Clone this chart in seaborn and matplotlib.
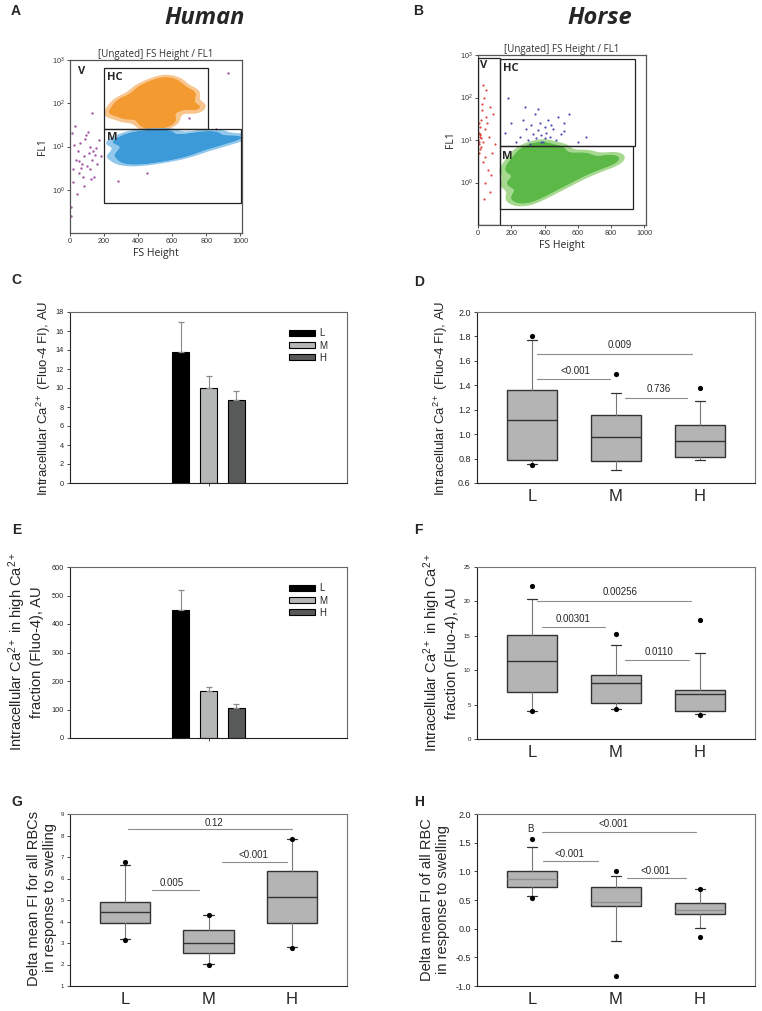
import numpy as np
import pandas as pd
import matplotlib
matplotlib.use('Agg')
import matplotlib.pyplot as plt
import seaborn as sns
from matplotlib.patches import Rectangle
from matplotlib.colors import ListedColormap
from matplotlib.ticker import NullLocator, FormatStrFormatter

# Flow cytometry, human (panel A): anchor points of each population
hc_human_x = [260, 300, 340, 360, 400, 420, 440, 460, 480, 500, 510, 540, 550, 560, 580, 590, 600, 620,
              640, 660, 700, 740, 540, 480]
hc_human_y = [63, 100, 50, 126, 79, 200, 40, 126, 251, 63, 158, 316, 100, 200, 40, 141, 282, 79,
              200, 112, 158, 79, 35, 32]
m_human_x = [300, 300, 350, 350, 350, 400, 400, 400, 400, 450, 450, 450, 500, 500, 500, 550, 550, 550,
             600, 600, 650, 650, 700, 700, 760, 760, 830, 830, 900, 970]
m_human_y = [6.3, 12.6, 5.0, 9.0, 16, 4.5, 8.0, 14, 20, 5.0, 9.0, 16, 5.6, 10, 20, 5.6, 11, 20,
             6.3, 12.6, 7.0, 14, 8.0, 16, 10, 18, 11, 20, 14, 16]
v_human_x = [10, 20, 35, 45, 55, 60, 70, 80, 90, 100, 110, 120, 130, 140, 150, 160, 170, 180, 15, 30,
             50, 75, 95, 115, 135, 5, 25, 65, 85, 105, 125, 145, 40, 8, 450, 930, 860, 280, 130, 700]
v_human_y = [20, 3, 5, 8, 2.5, 12, 4, 6, 15, 3.5, 7, 10, 5, 2, 9, 4, 14, 6, 1.5, 30,
             4.5, 2, 18, 3, 8, 0.4, 11, 3.2, 1.2, 22, 1.8, 6.5, 0.8, 0.25, 2.5, 500, 25, 1.6, 60, 45]

# Flow cytometry, horse (panel B)
m_horse_x = [200, 200, 240, 240, 280, 280, 280, 280, 330, 330, 330, 330, 380, 380, 380, 380, 430, 430,
             430, 480, 480, 480, 530, 530, 580, 580, 640, 640, 700, 760, 810]
m_horse_y = [1.0, 2.0, 0.5, 3.2, 0.4, 1.0, 2.5, 5.0, 0.5, 1.26, 3.2, 6.3, 0.63, 1.6, 4.0, 7.0, 0.79, 2.0,
             5.0, 1.0, 2.5, 5.6, 1.26, 3.2, 1.6, 3.5, 2.0, 4.0, 2.5, 3.2, 3.5]
hc_horse_x = [160, 200, 230, 250, 270, 290, 300, 320, 330, 340, 350, 360, 370, 380, 390, 400, 410, 420,
              430, 450, 470, 500, 520, 550, 600, 650, 280, 310, 360, 400, 440, 180, 480, 520, 380]
hc_horse_y = [15, 25, 9, 12, 30, 18, 10, 22, 14, 40, 11, 17, 25, 13, 9, 20, 15, 30,
              12, 18, 10, 14, 25, 40, 9, 12, 60, 8, 55, 11, 22, 100, 35, 16, 9]
v_horse_x = [3, 5, 8, 10, 12, 15, 18, 20, 25, 30, 35, 40, 45, 50, 55, 60, 70, 80, 90, 100,
             6, 9, 14, 22, 28, 33, 42, 48, 65, 75, 85, 4, 11, 17, 38]
v_horse_y = [10, 15, 8, 20, 12, 6, 30, 11, 50, 9, 100, 18, 4, 150, 25, 2, 60, 1.5, 40, 8,
             5, 25, 13, 70, 3, 200, 1, 35, 12, 0.6, 5, 9, 14, 7, 0.4]

# gates: (x0, y0, x1, y1)
gates_human = [(200, 26, 810, 650), (200, 0.5, 1005, 26)]
gates_horse = [(3, 0.1, 133, 850), (133, 7.2, 946, 800), (133, 0.24, 930, 7.2)]

levels = ['L', 'M', 'H']
bar_colors = ['#000000', '#b5b7b6', '#575a59']

# Panel C / E bars (mean, upper error)
c_means = [13.8, 9.95, 8.75]
c_err = [3.1, 1.35, 0.95]
e_means = [448, 165, 105]
e_err = [72, 13, 13]

# Panel D boxes
d_q1 = [0.785, 0.78, 0.815]
d_med = [1.115, 0.98, 0.945]
d_q3 = [1.365, 1.155, 1.075]
d_wlo = [0.755, 0.71, 0.79]
d_whi = [1.77, 1.34, 1.275]
d_dot_cat = ['L', 'L', 'M', 'H']
d_dot_val = [1.80, 0.75, 1.49, 1.375]

# Panel F boxes
f_q1 = [6.9, 5.3, 4.1]
f_med = [11.4, 8.2, 6.5]
f_q3 = [15.1, 9.3, 7.05]
f_wlo = [4.0, 4.4, 3.6]
f_whi = [20.4, 13.6, 12.5]
f_dot_cat = ['L', 'L', 'M', 'M', 'H', 'H']
f_dot_val = [22.2, 4.0, 15.3, 4.3, 17.3, 3.5]

# Panel G boxes
g_q1 = [3.93, 2.55, 3.95]
g_med = [4.42, 3.0, 5.15]
g_q3 = [4.93, 3.6, 6.33]
g_wlo = [3.18, 2.02, 2.8]
g_whi = [6.62, 4.3, 7.85]
g_dot_cat = ['L', 'L', 'M', 'M', 'H', 'H']
g_dot_val = [6.78, 3.15, 4.32, 2.0, 7.85, 2.75]

# Panel H boxes
h_q1 = [0.73, 0.40, 0.26]
h_med = [0.87, 0.47, 0.33]
h_q3 = [1.01, 0.72, 0.45]
h_wlo = [0.57, -0.22, 0.01]
h_whi = [1.42, 0.91, 0.69]
h_dot_cat = ['L', 'L', 'M', 'M', 'H', 'H']
h_dot_val = [1.56, 0.53, 1.01, -0.83, 0.70, -0.15]

# p-value brackets: (label, x0, x1, y_line, x_text, y_text)
sig_d = [('0.009', 0.06, 1.91, 1.655, 1.05, 1.73), ('<0.001', 0.06, 0.93, 1.45, 0.52, 1.52),
         ('0.736', 1.11, 1.85, 1.30, 1.51, 1.37)]
sig_f = [('0.00256', 0.06, 1.89, 20.0, 1.05, 21.3), ('0.00301', 0.12, 0.87, 16.3, 0.49, 17.5),
         ('0.0110', 1.11, 1.87, 11.5, 1.51, 12.7)]
sig_g = [('0.12', 0.04, 2.0, 8.3, 1.06, 8.6), ('0.005', 0.32, 0.89, 5.48, 0.56, 5.77),
         ('<0.001', 1.16, 1.94, 6.78, 1.54, 7.07)]
sig_h = [('<0.001', 0.12, 1.95, 1.69, 0.97, 1.82), ('<0.001', 0.13, 0.79, 1.18, 0.44, 1.30),
         ('<0.001', 1.13, 1.83, 0.89, 1.47, 1.01)]

sns.set_style('ticks')
plt.rcParams['font.family'] = ['Liberation Sans', 'DejaVu Sans']
plt.rcParams['mathtext.fontset'] = 'custom'
plt.rcParams['mathtext.rm'] = 'Liberation Sans'
plt.rcParams['mathtext.it'] = 'Liberation Sans:italic'
plt.rcParams['mathtext.bf'] = 'Liberation Sans:bold'

W, H = 762, 1011
fig = plt.figure(figsize=(W / 100, H / 100), dpi=100)


def px_axes(l, t, r, b):
    return fig.add_axes([l / W, 1 - b / H, (r - l) / W, (b - t) / H])


def ftext(x, y, s, **kw):
    fig.text(x / W, 1 - y / H, s, **kw)


flow_font = ['Open Sans', 'DejaVu Sans']


def flow_axes(ax, xmax):
    ax.set_yscale('log')
    ax.set_xlim(0, xmax)
    ax.set_ylim(0.1, 1000)
    ax.set_yticks([1, 10, 100, 1000])
    ax.yaxis.set_minor_locator(NullLocator())
    ax.set_xticks([0, 200, 400, 600, 800, 1000])
    ax.tick_params(labelsize=5.2, length=2, width=0.6, pad=1.5, colors='#333')
    for s in ax.spines.values():
        s.set_color('#555')
        s.set_linewidth(0.9)
    ax.set_title('[Ungated] FS Height / FL1', fontsize=7, color='#333', pad=2, fontfamily=flow_font)


def flow_labels(ax):
    ax.set_xlim(0, 1010)
    ax.set_ylim(0.1, 1000)
    ax.set_xlabel('FS Height', fontsize=7.5, labelpad=2, fontfamily=flow_font)
    ax.set_ylabel('FL1', fontsize=7.5, labelpad=3, fontfamily=flow_font)


def cloud(ax, xs, ys, light, dark, bw):
    df = pd.DataFrame({'fs': xs, 'fl': ys})
    sns.kdeplot(data=df, x='fs', y='fl', fill=True, levels=[0.07, 0.16, 1],
                cmap=ListedColormap([light, dark]), bw_adjust=bw, antialiased=True, ax=ax)


def draw_gates(ax, gates):
    for x0, y0, x1, y1 in gates:
        ax.add_patch(Rectangle((x0, y0), x1 - x0, y1 - y0, fill=False, edgecolor='#222', lw=0.9, zorder=4))


# Panel A
ax = px_axes(70, 60, 242, 233)
flow_axes(ax, 1012)
cloud(ax, hc_human_x, hc_human_y, '#f9c58e', '#f39a30', 0.65)
cloud(ax, m_human_x, m_human_y, '#92c8ec', '#3d9ad8', 0.7)
sns.scatterplot(x=v_human_x, y=v_human_y, color='#a35aa8', s=3, linewidth=0, ax=ax)
draw_gates(ax, gates_human)
flow_labels(ax)
ax.text(45, 550, 'V', fontsize=8, fontweight='bold', fontfamily=flow_font, va='center')
ax.text(215, 400, 'HC', fontsize=8, fontweight='bold', fontfamily=flow_font, va='center')
ax.text(215, 16, 'M', fontsize=8, fontweight='bold', fontfamily=flow_font, va='center')

# Panel B
ax = px_axes(478, 55, 646, 225)
flow_axes(ax, 1010)
cloud(ax, m_horse_x, m_horse_y, '#a6d98f', '#5cb947', 0.65)
sns.scatterplot(x=hc_horse_x, y=hc_horse_y, color='#4b4fb0', s=2.5, linewidth=0, ax=ax)
sns.scatterplot(x=v_horse_x, y=v_horse_y, color='#e2473f', s=2.5, linewidth=0, ax=ax)
draw_gates(ax, gates_horse)
flow_labels(ax)
ax.text(15, 560, 'V', fontsize=8, fontweight='bold', fontfamily=flow_font, va='center')
ax.text(150, 480, 'HC', fontsize=8, fontweight='bold', fontfamily=flow_font, va='center')
ax.text(145, 4, 'M', fontsize=8, fontweight='bold', fontfamily=flow_font, va='center')


def bar_panel(ax, means, errs, ymax, ystep):
    df = pd.DataFrame({'group': [''] * len(levels), 'level': levels, 'value': means})
    sns.barplot(data=df, x='group', y='value', hue='level', hue_order=levels, palette=bar_colors,
                gap=0.39, edgecolor='black', linewidth=0.8, errorbar=None, ax=ax)
    for cont, err in zip(ax.containers, errs):
        bar = cont[0]
        ax.errorbar(bar.get_x() + bar.get_width() / 2, bar.get_height(), yerr=[[0], [err]],
                    fmt='none', ecolor='#8a8a8a', elinewidth=0.8, capsize=2.5, capthick=0.9, zorder=1)
    ax.set_xlim(-1.32, 1.32)
    ax.set_ylim(0, ymax)
    ax.set_yticks(np.arange(0, ymax + ystep / 2, ystep))
    ax.set_xticks([0])
    ax.set_xticklabels([''])
    ax.set_xlabel('')
    ax.set_ylabel('')
    ax.tick_params(axis='y', labelsize=5.3, length=2.5, width=0.6, pad=2)
    ax.tick_params(axis='x', length=2.5, width=0.6)
    for side, s in ax.spines.items():
        s.set_linewidth(0.8)
        s.set_color('#222' if side in ('left', 'bottom') else '#666')
    sns.move_legend(ax, 'upper left', bbox_to_anchor=(0.76, 0.955), frameon=False, title=None,
                    fontsize=7, handlelength=2.6, handleheight=0.55, labelspacing=0.22, handletextpad=0.5)


def box_panel(ax, q1, med, q3, wlo, whi, dot_cat, dot_val, ymin, ymax, ystep, tick_size, fmt, med_color='#333'):
    stats = [dict(med=m, q1=a, q3=b, whislo=lo, whishi=hi, fliers=[], label=lv)
             for lv, a, m, b, lo, hi in zip(levels, q1, med, q3, wlo, whi)]
    ax.bxp(stats, positions=range(len(levels)), widths=0.6, patch_artist=True, showfliers=False,
           boxprops=dict(facecolor='#b4b4b4', edgecolor='#333', linewidth=1.0),
           medianprops=dict(color=med_color, linewidth=1.0),
           whiskerprops=dict(color='#777', linewidth=0.8),
           capprops=dict(color='#333', linewidth=0.9), capwidths=0.12)
    pos = {c: i for i, c in enumerate(levels)}
    sns.scatterplot(x=[pos[c] for c in dot_cat], y=dot_val, color='black', s=14, linewidth=0,
                    zorder=5, ax=ax, legend=False)
    ax.set_xlim(-0.66, 2.66)
    ax.set_ylim(ymin, ymax)
    ax.set_yticks(np.arange(ymin, ymax + ystep / 2, ystep))
    if fmt:
        ax.yaxis.set_major_formatter(FormatStrFormatter(fmt))
    ax.set_xticks(range(len(levels)))
    ax.set_xticklabels(levels)
    ax.tick_params(axis='x', length=0, labelsize=12, pad=4)
    ax.tick_params(axis='y', labelsize=tick_size, length=2.5, width=0.6, pad=2)
    for side, s in ax.spines.items():
        s.set_linewidth(0.8)
        s.set_color('#222' if side in ('left', 'bottom') else '#777')


def sig_marks(ax, sig):
    for lab, x0, x1, yl, xt, yt in sig:
        ax.plot([x0, x1], [yl, yl], color='#8c8c8c', lw=0.8)
        ax.text(xt, yt, lab, ha='center', va='center', fontsize=7)


# Panel C
ax = px_axes(70, 312, 347, 483)
bar_panel(ax, c_means, c_err, 18, 2)
# Panel E
ax = px_axes(70, 567, 347, 738)
bar_panel(ax, e_means, e_err, 600, 100)

# Panel D
ax = px_axes(477, 312, 755, 483)
box_panel(ax, d_q1, d_med, d_q3, d_wlo, d_whi, d_dot_cat, d_dot_val, 0.6, 2.0, 0.2, 6.5, '%.1f')
sig_marks(ax, sig_d)
# Panel F
ax = px_axes(477, 567, 755, 739)
box_panel(ax, f_q1, f_med, f_q3, f_wlo, f_whi, f_dot_cat, f_dot_val, 0, 25, 5, 4.4, None)
sig_marks(ax, sig_f)
# Panel G
ax = px_axes(70, 814, 347, 986)
box_panel(ax, g_q1, g_med, g_q3, g_wlo, g_whi, g_dot_cat, g_dot_val, 1, 9, 1, 4.4, None)
sig_marks(ax, sig_g)
# Panel H
ax = px_axes(477, 814, 755, 986)
box_panel(ax, h_q1, h_med, h_q3, h_wlo, h_whi, h_dot_cat, h_dot_val, -1.0, 2.0, 0.5, 6.5, '%.1f',
          med_color='#8f8f8f')
sig_marks(ax, sig_h)
ax.text(-0.02, 1.73, 'B', ha='center', va='center', fontsize=7)

# y labels
ftext(44, 398, 'Intracellular Ca$^{2+}$ (Fluo-4 FI), AU', rotation=90, ha='center', va='center', fontsize=9.5)
ftext(441, 398, 'Intracellular Ca$^{2+}$ (Fluo-4 FI), AU', rotation=90, ha='center', va='center', fontsize=9.5)
ftext(25, 652, 'Intracellular Ca$^{2+}$ in high Ca$^{2+}$\nfraction (Fluo-4), AU', rotation=90,
      ha='center', va='center', fontsize=10.5, multialignment='center')
ftext(440, 653, 'Intracellular Ca$^{2+}$ in high Ca$^{2+}$\nfraction (Fluo-4), AU', rotation=90,
      ha='center', va='center', fontsize=10.5, multialignment='center')
ftext(42, 898, 'Delta mean FI for all RBCs\nin response to swelling', rotation=90,
      ha='center', va='center', fontsize=10.5, multialignment='center')
ftext(435, 900, 'Delta mean FI of all RBC\nin response to swelling', rotation=90,
      ha='center', va='center', fontsize=10.5, multialignment='center')

# titles and panel letters
ftext(205, 18, 'Human', ha='center', va='center', fontsize=17, fontweight='bold', fontstyle='italic',
      fontfamily=flow_font)
ftext(600, 18, 'Horse', ha='center', va='center', fontsize=17, fontweight='bold', fontstyle='italic',
      fontfamily=flow_font)
for letter, x, y in [('A', 16, 11), ('B', 418, 11), ('C', 16, 280), ('D', 419, 282),
                     ('E', 17, 530), ('F', 418, 530), ('G', 17, 802), ('H', 419, 802)]:
    ftext(x, y, letter, ha='center', va='center', fontsize=10, fontweight='bold')

fig.savefig('out.png', dpi=100)
